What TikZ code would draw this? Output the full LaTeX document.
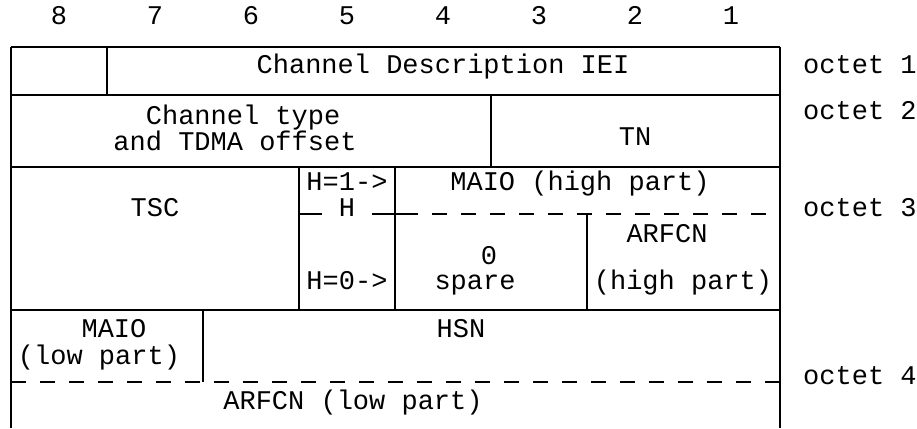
\documentclass[tikz,border=0pt]{standalone}
\usepackage{fontspec}
\setmonofont{Liberation Mono}
\usepackage{tikz}
\usetikzlibrary{positioning}

\begin{document}
\begin{tikzpicture}[x=1pt, y=-1pt,
    field/.style={font=\ttfamily\fontsize{27}{24}\selectfont, inner sep=0pt, anchor=mid},
    rule/.style={line width=1.6pt},
    split/.style={line width=1.6pt, dash pattern=on 15pt off 14pt}]
  \useasboundingbox (0,0) rectangle (917,428);

  % Bit numbers over the columns
  \foreach \b [count=\i from 0] in {8,...,1} {
    \node[field] (bit\b) at ({11+96*(\i+0.5)},22) {\b};
  }

  % Frame and the solid octet borders (bottom row stays open)
  \foreach \y in {47,95,167,310} {
    \draw[rule] (11,\y) -- (780,\y);
  }
  \draw[rule] (11,47) -- (11,428);
  \draw[rule] (780,47) -- (780,428);

  % Field borders inside the octets
  \draw[rule] (107,47) -- (107,95);
  \draw[rule] (491,95) -- (491,167);
  \draw[rule] (299,167) -- (299,310);
  \draw[rule] (395,167) -- (395,310);
  \draw[rule] (587,214) -- (587,310);
  \draw[rule] (203,310) -- (203,382);

  % Dashed splits in octet 3 and octet 4
  \draw[rule] (299,214) -- (322,214);
  \draw[rule] (372,214) -- (418,214);
  \draw[split] (432,214) -- (780,214);
  \draw[split] (11,382) -- (780,382);

  % Octet 1
  \node[field] (iei) at (443,71) {Channel Description IEI};

  % Octet 2
  \node[field, align=center, anchor=center] (chtype) at (235,128)
    {\hphantom{x}Channel type\\and TDMA offset};
  \node[field] (tn) at (635,143) {TN};

  % Octet 3
  \node[field] (tsc) at (155,214) {TSC};
  \node[field] (hone) at (347,188) {H=1->};
  \node[field] (hbit) at (347,214) {H};
  \node[field] (hzero) at (347,287) {H=0->};
  \node[field] (maiohi) at (580,188) {MAIO (high part)};
  \node[field] (zero) at (489,262) {0};
  \node[field] (spare) at (475,287) {spare};
  \node[field] (arfcnhi) at (667,240) {ARFCN};
  \node[field] (highpart) at (683,287) {(high part)};

  % Octet 4
  \node[field] (maiolo) at (114,335) {MAIO};
  \node[field] (lowpart) at (99,362) {(low part)};
  \node[field] (hsn) at (461,335) {HSN};
  \node[field] (arfcnlo) at (353,407) {ARFCN (low part)};

  % Octet numbers on the right
  \foreach \o/\y in {1/71, 2/117, 3/214, 4/382} {
    \node[field, anchor=mid west] (octet\o) at (803,\y) {octet \o};
  }
\end{tikzpicture}
\end{document}
